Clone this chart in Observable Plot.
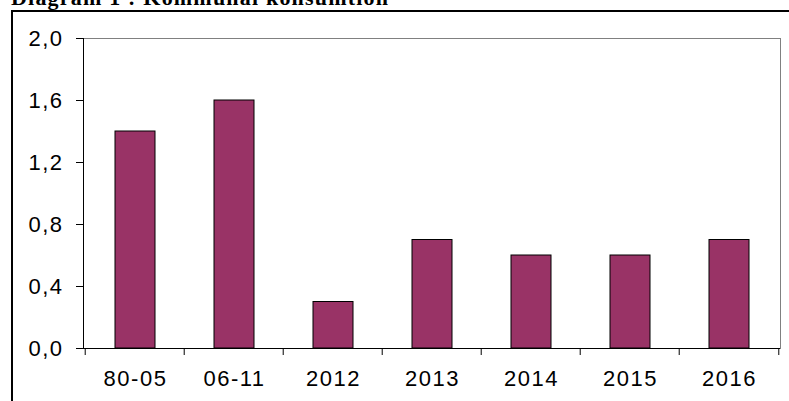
<!DOCTYPE html>
<html>
<head>
<meta charset="utf-8">
<script src="https://cdn.jsdelivr.net/npm/d3@7"></script>
<script src="https://cdn.jsdelivr.net/npm/@observablehq/plot@0.6"></script>
<style>
  html, body { margin: 0; padding: 0; background: #fff; width: 789px; height: 401px; overflow: hidden; }
  #title { position: absolute; left: 11px; top: -13px; font: bold 22px "Liberation Serif", "Times New Roman", serif; line-height: 22px; letter-spacing: 1.2px; white-space: nowrap; color: #000; }
  #frame { position: absolute; left: 11px; top: 10px; width: 900px; height: 500px; border-left: 2px solid #000; border-top: 2px solid #000; }
  #chart { position: absolute; left: 0; top: 0; }
</style>
</head>
<body>
<div id="title">Diagram 1 : Kommunal konsumtion</div>
<div id="frame"></div>
<div id="chart"></div>
<script>
const categories = ["80-05", "06-11", "2012", "2013", "2014", "2015", "2016"];
const values = [1.4, 1.6, 0.3, 0.7, 0.6, 0.6, 0.7];
const yTicks = [0, 0.4, 0.8, 1.2, 1.6, 2.0];

const data = categories.map((c, i) => ({category: c, value: values[i]}));

const W = 789, H = 401, ML = 83, MR = 9, MT = 38, MB = 53;
const step = (W - ML - MR) / categories.length;
const fmt = d => d3.format(".1f")(d).replace(".", ",");

const chart = Plot.plot({
  width: W,
  height: H,
  marginLeft: ML,
  marginRight: MR,
  marginTop: MT,
  marginBottom: MB,
  style: {fontFamily: "'Liberation Sans', Arial, sans-serif", fontSize: "22px", letterSpacing: "1.5px", color: "#000", background: "transparent"},
  x: {domain: categories, paddingInner: 0.6, paddingOuter: 0.3, label: null},
  y: {domain: [0, 2], label: null},
  marks: [
    Plot.frame({stroke: "#808080", strokeWidth: 1}),
    Plot.barY(data, {x: "category", y: "value", fill: "#993366", stroke: "#000", strokeWidth: 1}),
    Plot.ruleY([0], {stroke: "#000", strokeWidth: 1}),
    Plot.frame({anchor: "left", stroke: "#000", strokeWidth: 1}),
    Plot.tickX(categories, {x: d => d, dx: -step / 2, stroke: "#000", insetTop: 0}),
    Plot.axisY({ticks: yTicks, tickFormat: fmt, tickSize: 7, tickPadding: 13, stroke: "#000"}),
    Plot.axisX({tickSize: 0, tickPadding: 22})
  ]
});

// band-edge tick marks below the x axis (Excel style: between categories)
const xs = chart.scale("x");
const svg = d3.select(chart);
const edges = categories.map(c => xs.apply(c) - (step - xs.bandwidth) / 2).concat([xs.apply(categories[categories.length - 1]) + xs.bandwidth + (step - xs.bandwidth) / 2]);
svg.append("g").attr("stroke", "#000").selectAll("line").data(edges).join("line")
  .attr("x1", d => d).attr("x2", d => d)
  .attr("y1", H - MB).attr("y2", H - MB + 7);

// remove the tickX mark placeholder (drawn in plot area)
svg.selectAll("g[aria-label='tick']").remove();

document.getElementById("chart").appendChild(chart);
</script>
</body>
</html>
